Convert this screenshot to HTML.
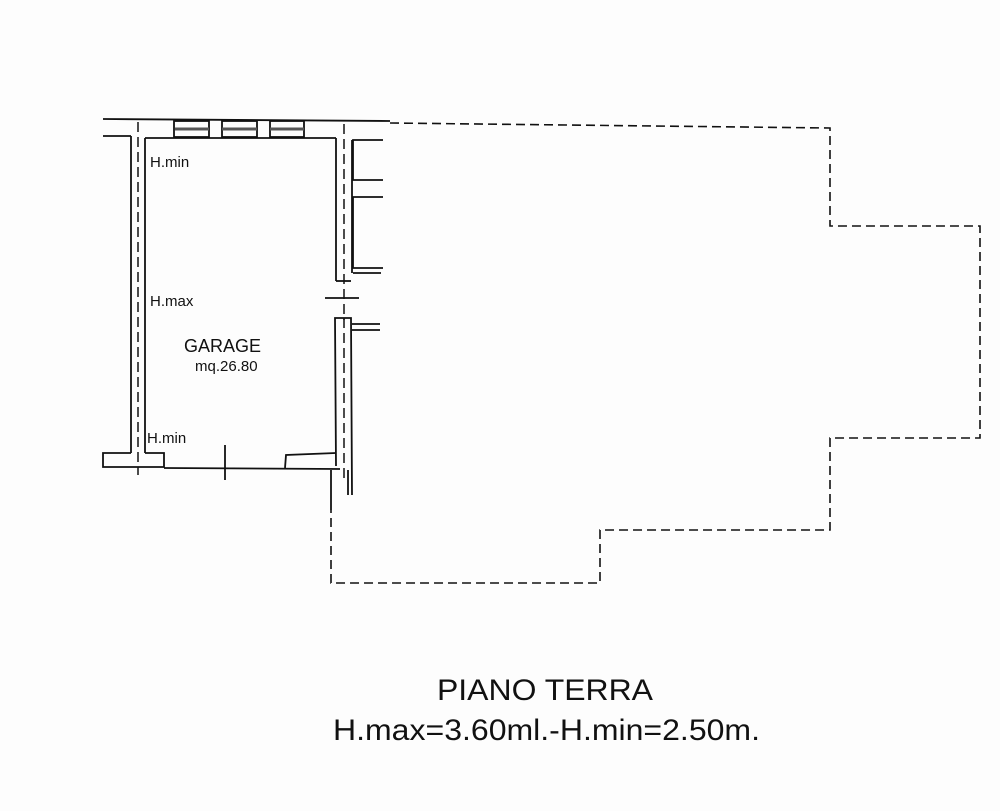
<!DOCTYPE html>
<html><head><meta charset="utf-8"><style>html,body{margin:0;padding:0;background:#fff}svg{display:block}</style></head>
<body>
<svg width="1000" height="811" viewBox="0 0 1000 811" xmlns="http://www.w3.org/2000/svg" font-family="Liberation Sans, sans-serif">
<rect width="1000" height="811" fill="#fdfdfd"/>
<g stroke="#111" stroke-width="1.8" fill="none">
<!-- top wall -->
<line x1="103" y1="119" x2="390" y2="121"/>
<line x1="103" y1="136" x2="131" y2="136"/>
<line x1="145" y1="138" x2="336" y2="138"/>
<!-- windows -->
<rect x="174" y="121" width="35" height="16"/>
<rect x="222" y="121" width="35" height="16"/>
<rect x="270" y="121" width="34" height="16"/>
<line x1="175" y1="129" x2="209" y2="129" stroke-width="3" stroke="#555"/>
<line x1="222" y1="129" x2="257" y2="129" stroke-width="3" stroke="#555"/>
<line x1="270" y1="129" x2="304" y2="129" stroke-width="3" stroke="#555"/>
<!-- left wall -->
<line x1="131" y1="136" x2="131" y2="453"/>
<line x1="145" y1="138" x2="145" y2="453"/>
<line x1="138" y1="122" x2="138" y2="475" stroke-dasharray="10,5" stroke-width="1.5"/>
<!-- right upper wall -->
<line x1="336" y1="138" x2="336" y2="281"/>
<line x1="336" y1="281" x2="351" y2="281"/>
<line x1="352" y1="140" x2="352" y2="273"/>
<line x1="344" y1="124" x2="344" y2="320" stroke-dasharray="10,5" stroke-width="1.5"/>
<polyline points="383,140 353,140 353,180 383,180"/>
<polyline points="383,197 353,197 353,268 383,268"/>
<line x1="353" y1="273" x2="381" y2="273"/>
<line x1="325" y1="298" x2="359" y2="298"/>
<!-- right lower wall -->
<polyline points="336,466 335,318 351,318 352,495"/>
<line x1="352" y1="324" x2="380" y2="324"/>
<line x1="352" y1="330" x2="380" y2="330"/>
<line x1="344" y1="318" x2="344" y2="478" stroke-dasharray="10,5" stroke-width="1.5"/>
<!-- bottom -->
<polyline points="131,453 103,453 103,467 164,467 164,453 145,453"/>
<line x1="164" y1="468" x2="340" y2="469"/>
<polyline points="336,453 286,455 285,468"/>
<line x1="225" y1="445" x2="225" y2="480"/>
<line x1="331" y1="470" x2="331" y2="510"/>
<line x1="348" y1="470" x2="348" y2="495"/>
</g>
<!-- dashed outline -->
<polyline points="390,123 830,128 830,226 980,226 980,438 830,438 830,530 600,530 600,583 331,583 331,510" fill="none" stroke="#111" stroke-width="1.6" stroke-dasharray="9,5"/>
<g fill="#111">
<text x="150" y="167" font-size="15">H.min</text>
<text x="150" y="306" font-size="15">H.max</text>
<text x="184" y="352" font-size="18">GARAGE</text>
<text x="195" y="371" font-size="15">mq.26.80</text>
<text x="147" y="443" font-size="15">H.min</text>
<text x="437" y="700" font-size="30" textLength="216" lengthAdjust="spacingAndGlyphs">PIANO TERRA</text>
<text x="333" y="740" font-size="30" textLength="427" lengthAdjust="spacingAndGlyphs">H.max=3.60ml.-H.min=2.50m.</text>
</g>
</svg>
</body></html>
